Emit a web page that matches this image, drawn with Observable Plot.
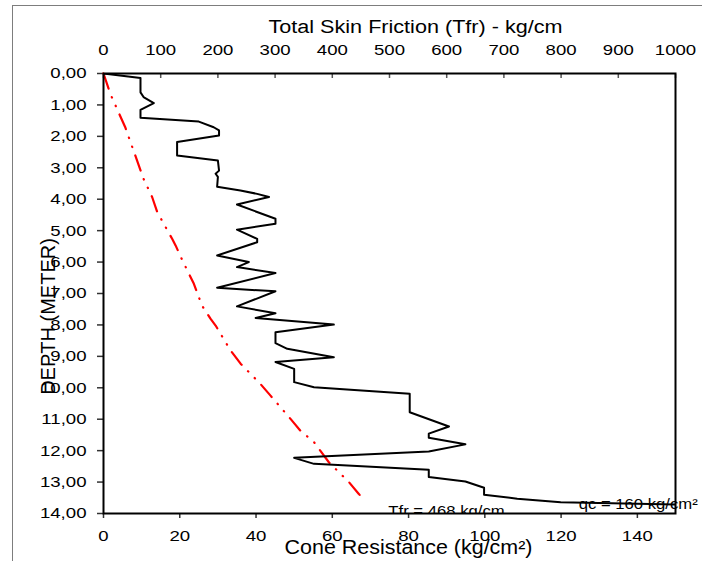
<!DOCTYPE html>
<html>
<head>
<meta charset="utf-8">
<script src="https://cdn.jsdelivr.net/npm/d3@7"></script>
<script src="https://cdn.jsdelivr.net/npm/@observablehq/plot@0.6"></script>
<style>
  body { margin: 0; background: #fff; }
  #wrap { position: relative; width: 702px; height: 561px; overflow: hidden; background: #fff; }
  #border { position: absolute; left: 12px; top: 5px; width: 900px; height: 800px; border: 1.5px solid #7d7d7d; }
  #chart { position: absolute; left: 0; top: 0; }
  #chart svg { overflow: visible; }
</style>
</head>
<body>
<div id="wrap"><div id="border"></div><div id="chart"></div></div>
<script>
// Cone resistance profile (bottom axis, kg/cm²) vs depth (m)
const depthQc = [0, 0.14, 0.6, 0.75, 0.94, 1.16, 1.41, 1.53, 1.71, 1.81, 1.97, 2.18, 2.61, 2.77, 3.09, 3.19, 3.29, 3.6, 3.72, 3.83, 3.93, 4.17, 4.62, 4.78, 4.97, 5.26, 5.37, 5.79, 6.0, 6.16, 6.35, 6.82, 6.93, 7.41, 7.63, 7.78, 7.99, 8.23, 8.58, 8.76, 9.03, 9.18, 9.4, 9.82, 9.98, 10.06, 10.19, 10.78, 11.23, 11.46, 11.59, 11.8, 12.03, 12.23, 12.42, 12.61, 12.84, 12.98, 13.18, 13.4, 13.53, 13.64, 13.71, 13.72];
const qcValues = [0, 9.7, 9.7, 10.5, 13.2, 9.7, 9.7, 25, 28.9, 30.3, 30.3, 19.3, 19.3, 30, 30.3, 29.4, 30, 29.8, 35.9, 40.3, 43.4, 35, 45.1, 45.1, 35, 40.3, 40.3, 29.8, 38.1, 35, 45.1, 29.8, 45.1, 35, 45.1, 39.9, 60.4, 45.1, 45.1, 48.2, 60.4, 45.1, 50, 50, 55.2, 64.8, 80.3, 80.3, 90.6, 85.3, 85.3, 94.9, 85.3, 50, 55.2, 85.3, 85.3, 94.9, 99.8, 99.8, 108.5, 119.9, 150, 160];

// Total skin friction (top axis, kg/cm) vs depth (m)
const depthTfr = [0, 0.65, 1.71, 3.35, 3.93, 4.41, 5.26, 5.47, 5.95, 6.69, 7.38, 7.8, 8.02, 8.81, 9.24, 9.87, 10.25, 10.99, 11.36, 11.73, 12.37, 13.0, 13.37, 13.62];
const tfrValues = [0, 12, 38, 70, 85, 94, 120, 126, 138, 158, 172, 187, 196, 222, 240, 274, 292, 327, 344, 368, 394, 429, 446, 458];

// Tick labels
const depthTicks = [0, 1, 2, 3, 4, 5, 6, 7, 8, 9, 10, 11, 12, 13, 14];
const coneTicks = [0, 20, 40, 60, 80, 100, 120, 140];
const tfrTicks = [0, 100, 200, 300, 400, 500, 600, 700, 800, 900, 1000];
const coneMax = 150;
const tfrMax = 1000;
const depthMax = 14;

// Titles
const topTitle = "Total Skin Friction (Tfr) - kg/cm";
const bottomTitle = "Cone Resistance (kg/cm²)";
const leftTitle = "DEPTH (METER)";

// Annotations
const annoTexts = ["Tfr = 468 kg/cm", "qc = 160 kg/cm²"];
const annoX = [74.7, 124.6];
const annoY = [13.94, 13.71];

const toX = t => t * coneMax / tfrMax;
const qcIdx = d3.range(depthQc.length);
const tfrIdx = d3.range(depthTfr.length);

const chart = Plot.plot({
  width: 702,
  height: 561,
  marginLeft: 103,
  marginRight: 27,
  marginTop: 73,
  marginBottom: 48,
  style: { fontFamily: "'Liberation Sans', Arial, sans-serif", fontSize: "15.5px", background: "transparent", color: "#000" },
  x: { domain: [0, coneMax] },
  y: { domain: [0, depthMax], reverse: true },
  marks: [
    // axes
    Plot.axisY(depthTicks, { anchor: "left", tickSize: 6, tickPadding: 11, stroke: "#333", strokeWidth: 1.5, tickFormat: d => d.toFixed(2).replace(".", ","), label: null }),
    Plot.axisX(coneTicks, { anchor: "bottom", tickSize: 5, tickPadding: 11, stroke: "#333", strokeWidth: 1.5, label: null }),
    Plot.axisX(tfrTicks.map(toX), { anchor: "top", tickSize: 0, tickPadding: 19, tickFormat: d => String(Math.round(d * tfrMax / coneMax)), label: null }),
    Plot.axisX(tfrTicks.map(toX), { anchor: "top", tickSize: 4, dy: 4, fill: "none", stroke: "#555", strokeWidth: 1.5, label: null }),
    // axis titles
    Plot.text([topTitle], { frameAnchor: "top", lineAnchor: "top", textAnchor: "middle", dx: 26, dy: -53, fontSize: 18, fill: "#000" }),
    Plot.text([bottomTitle], { frameAnchor: "bottom", lineAnchor: "middle", textAnchor: "middle", dx: 19, dy: 34, fontSize: 19.5, fill: "#000" }),
    Plot.text([leftTitle], { frameAnchor: "left", lineAnchor: "middle", textAnchor: "middle", rotate: -90, dx: -55, dy: 23, fontSize: 20, fill: "#000" }),
    // annotations
    Plot.text([0], { x: i => annoX[i], y: i => annoY[i], text: i => annoTexts[i], textAnchor: "start", fontSize: 14.5, fill: "#000", clip: true }),
    Plot.text([1], { x: i => annoX[i], y: i => annoY[i], text: i => annoTexts[i], textAnchor: "start", fontSize: 14.5, fill: "#000" }),
    // data
    Plot.line(tfrIdx, { x: i => toX(tfrValues[i]), y: i => depthTfr[i], stroke: "#ff0000", strokeWidth: 2.2, strokeDasharray: "16,9,0.5,9,0.5,9", strokeLinecap: "round" }),
    Plot.line(qcIdx, { x: i => qcValues[i], y: i => depthQc[i], stroke: "#000", strokeWidth: 2, clip: true }),
    Plot.frame({ stroke: "#000", strokeWidth: 2 })
  ]
});

document.getElementById("chart").appendChild(chart);

// the reference's lettering is drawn horizontally wide: stretch glyphs to match
function stretch(sel, k) {
  sel.each(function () {
    const w = this.getComputedTextLength();
    this.setAttribute("textLength", (w * k).toFixed(1));
    this.setAttribute("lengthAdjust", "spacingAndGlyphs");
  });
}
const svg = d3.select(chart);
stretch(svg.selectAll('g[aria-label$="tick label"] text'), 1.2);
stretch(svg.selectAll("text").filter(function () { return this.textContent === topTitle; }), 1.2);
stretch(svg.selectAll("text").filter(function () { return this.textContent === bottomTitle; }), 1.1);
stretch(svg.selectAll("text").filter(function () { return annoTexts.includes(this.textContent); }), 1.15);
</script>
</body>
</html>
